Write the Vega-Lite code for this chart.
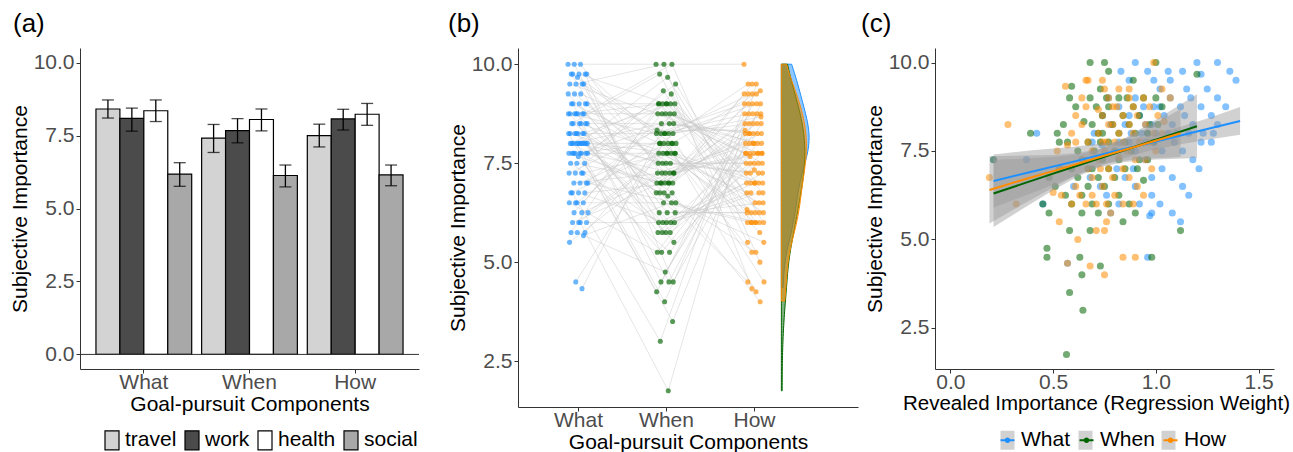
{
"$schema": "https://vega.github.io/schema/vega-lite/v6.json",
"background": "white",
"padding": {"left": 9, "top": 11, "right": 0, "bottom": 0},
"autosize": {"type": "pad"},
"config": {
 "font": "Liberation Sans",
 "view": {"stroke": null},
 "axis": {"labelFontSize": 21, "labelColor": "#4D4D4D", "titleFontSize": 21, "titleFontWeight": "normal", "titleColor": "#000000", "domainColor": "#333333", "tickColor": "#333333", "tickSize": 4, "grid": false, "labelPadding": 2, "labelFont": "Liberation Sans", "titleFont": "Liberation Sans"},
 "axisX": {"labelPadding": -2, "titlePadding": 1},
 "legend": {"labelFontSize": 21, "labelColor": "#000000", "labelFont": "Liberation Sans", "padding": 0},
 "title": {"fontSize": 26, "fontWeight": "normal", "anchor": "start", "frame": "group", "baseline": "alphabetic", "color": "#000000", "font": "Liberation Sans"}
},
"datasets": {
 "bars": [
  {"comp":"What","goal":"travel","m":8.41,"lo":8.10,"hi":8.72},
  {"comp":"What","goal":"work","m":8.09,"lo":7.65,"hi":8.44},
  {"comp":"What","goal":"health","m":8.35,"lo":7.98,"hi":8.72},
  {"comp":"What","goal":"social","m":6.18,"lo":5.76,"hi":6.57},
  {"comp":"When","goal":"travel","m":7.41,"lo":6.92,"hi":7.88},
  {"comp":"When","goal":"work","m":7.67,"lo":7.25,"hi":8.08},
  {"comp":"When","goal":"health","m":8.05,"lo":7.66,"hi":8.41},
  {"comp":"When","goal":"social","m":6.13,"lo":5.74,"hi":6.49},
  {"comp":"How","goal":"travel","m":7.50,"lo":7.11,"hi":7.89},
  {"comp":"How","goal":"work","m":8.07,"lo":7.69,"hi":8.40},
  {"comp":"How","goal":"health","m":8.23,"lo":7.85,"hi":8.60},
  {"comp":"How","goal":"social","m":6.15,"lo":5.78,"hi":6.49}
 ],
 "fit": [
  {"c":"What","grp":"What","x":0.21,"y":6.65,"lo":5.90,"hi":7.40},
  {"c":"What","grp":"What","x":0.4,"y":6.92,"lo":6.32,"hi":7.52},
  {"c":"What","grp":"What","x":0.6,"y":7.20,"lo":6.78,"hi":7.62},
  {"c":"What","grp":"What","x":0.8,"y":7.49,"lo":7.22,"hi":7.76},
  {"c":"What","grp":"What","x":0.95,"y":7.70,"lo":7.48,"hi":7.92},
  {"c":"What","grp":"What","x":1.1,"y":7.91,"lo":7.67,"hi":8.15},
  {"c":"What","grp":"What","x":1.25,"y":8.12,"lo":7.82,"hi":8.42},
  {"c":"What","grp":"What","x":1.41,"y":8.35,"lo":7.96,"hi":8.74},
  {"c":"When","grp":"When","x":0.21,"y":6.30,"lo":5.35,"hi":7.25},
  {"c":"When","grp":"When","x":0.35,"y":6.57,"lo":5.86,"hi":7.28},
  {"c":"When","grp":"When","x":0.5,"y":6.86,"lo":6.39,"hi":7.33},
  {"c":"When","grp":"When","x":0.62,"y":7.09,"lo":6.78,"hi":7.40},
  {"c":"When","grp":"When","x":0.72,"y":7.28,"lo":7.03,"hi":7.53},
  {"c":"When","grp":"When","x":0.85,"y":7.53,"lo":7.19,"hi":7.87},
  {"c":"When","grp":"When","x":1.0,"y":7.82,"lo":7.26,"hi":8.38},
  {"c":"When","grp":"When","x":1.2,"y":8.20,"lo":7.30,"hi":9.10},
  {"c":"How","grp":"How","x":0.19,"y":6.40,"lo":5.45,"hi":7.35},
  {"c":"How","grp":"How","x":0.35,"y":6.68,"lo":5.99,"hi":7.37},
  {"c":"How","grp":"How","x":0.5,"y":6.93,"lo":6.47,"hi":7.39},
  {"c":"How","grp":"How","x":0.62,"y":7.14,"lo":6.84,"hi":7.44},
  {"c":"How","grp":"How","x":0.74,"y":7.35,"lo":7.13,"hi":7.57},
  {"c":"How","grp":"How","x":0.9,"y":7.62,"lo":7.27,"hi":7.97},
  {"c":"How","grp":"How","x":1.12,"y":8.00,"lo":7.33,"hi":8.68}
 ],
 "pts": [
  {"id":0,"c":"What","s":10,"w":0.90},{"id":29,"c":"What","s":10,"w":1.20},{"id":58,"c":"What","s":10,"w":1.30},
  {"id":87,"c":"What","s":9.75,"w":1.06},{"id":22,"c":"What","s":9.75,"w":0.96},{"id":51,"c":"What","s":9.75,"w":1.36},{"id":80,"c":"What","s":9.75,"w":1.13},{"id":15,"c":"What","s":9.75,"w":0.83},
  {"id":44,"c":"What","s":9.67,"w":1.22},
  {"id":73,"c":"What","s":9.5,"w":0.99},{"id":8,"c":"What","s":9.5,"w":1.39},{"id":37,"c":"What","s":9.5,"w":1.07},{"id":66,"c":"What","s":9.5,"w":0.87},
  {"id":1,"c":"What","s":9.25,"w":1.15},{"id":30,"c":"What","s":9.25,"w":1.25},{"id":59,"c":"What","s":9.25,"w":1.02},
  {"id":88,"c":"What","s":9.0,"w":0.90},{"id":23,"c":"What","s":9.0,"w":1.30},{"id":52,"c":"What","s":9.0,"w":1.07},{"id":81,"c":"What","s":9.0,"w":0.77},{"id":16,"c":"What","s":9.0,"w":1.17},
  {"id":45,"c":"What","s":8.75,"w":0.94},{"id":74,"c":"What","s":8.75,"w":1.34},{"id":9,"c":"What","s":8.75,"w":1.02},{"id":38,"c":"What","s":8.75,"w":0.82},{"id":67,"c":"What","s":8.75,"w":1.12},{"id":2,"c":"What","s":8.75,"w":1.22},{"id":31,"c":"What","s":8.75,"w":0.99},
  {"id":60,"c":"What","s":8.5,"w":0.87},{"id":89,"c":"What","s":8.5,"w":1.27},{"id":24,"c":"What","s":8.5,"w":1.04},{"id":53,"c":"What","s":8.5,"w":0.74},{"id":82,"c":"What","s":8.5,"w":1.14},{"id":17,"c":"What","s":8.5,"w":0.92},
  {"id":46,"c":"What","s":8.25,"w":1.30},{"id":75,"c":"What","s":8.25,"w":0.98},{"id":10,"c":"What","s":8.25,"w":0.78},{"id":39,"c":"What","s":8.25,"w":1.08},{"id":68,"c":"What","s":8.25,"w":1.18},{"id":3,"c":"What","s":8.25,"w":0.95},{"id":32,"c":"What","s":8.25,"w":0.85},
  {"id":61,"c":"What","s":8.0,"w":1.23},{"id":90,"c":"What","s":8.0,"w":1.00},{"id":25,"c":"What","s":8.0,"w":0.70},{"id":54,"c":"What","s":8.0,"w":1.10},{"id":83,"c":"What","s":8.0,"w":0.88},{"id":18,"c":"What","s":8.0,"w":1.28},{"id":47,"c":"What","s":8.0,"w":0.96},{"id":76,"c":"What","s":8.0,"w":0.42},{"id":11,"c":"What","s":8.0,"w":1.06},{"id":40,"c":"What","s":8.0,"w":1.16},{"id":69,"c":"What","s":8.0,"w":0.93},
  {"id":4,"c":"What","s":7.75,"w":0.82},{"id":33,"c":"What","s":7.75,"w":1.22},{"id":62,"c":"What","s":7.75,"w":0.99},{"id":91,"c":"What","s":7.75,"w":0.69},{"id":26,"c":"What","s":7.75,"w":1.09},{"id":55,"c":"What","s":7.75,"w":0.87},{"id":84,"c":"What","s":7.75,"w":1.27},{"id":19,"c":"What","s":7.75,"w":0.95},
  {"id":48,"c":"What","s":7.67,"w":0.74},
  {"id":77,"c":"What","s":7.5,"w":1.03},{"id":12,"c":"What","s":7.5,"w":1.13},{"id":41,"c":"What","s":7.5,"w":0.90},
  {"id":70,"c":"What","s":7.25,"w":0.21},{"id":5,"c":"What","s":7.25,"w":1.18},{"id":34,"c":"What","s":7.25,"w":0.95},{"id":63,"c":"What","s":7.25,"w":0.37},
  {"id":92,"c":"What","s":7.0,"w":1.03},{"id":27,"c":"What","s":7.0,"w":0.81},{"id":56,"c":"What","s":7.0,"w":1.21},{"id":85,"c":"What","s":7.0,"w":0.89},
  {"id":20,"c":"What","s":6.75,"w":0.68},{"id":49,"c":"What","s":6.75,"w":0.98},{"id":78,"c":"What","s":6.75,"w":1.08},{"id":13,"c":"What","s":6.75,"w":0.85},
  {"id":42,"c":"What","s":6.5,"w":0.73},{"id":71,"c":"What","s":6.5,"w":1.13},{"id":6,"c":"What","s":6.5,"w":0.90},{"id":35,"c":"What","s":6.5,"w":0.60},
  {"id":64,"c":"What","s":6.25,"w":0.98},{"id":93,"c":"What","s":6.25,"w":0.76},{"id":28,"c":"What","s":6.25,"w":1.16},
  {"id":57,"c":"What","s":6.0,"w":0.82},{"id":86,"c":"What","s":6.0,"w":0.45},{"id":21,"c":"What","s":6.0,"w":0.92},{"id":50,"c":"What","s":6.0,"w":1.02},
  {"id":79,"c":"What","s":5.75,"w":0.78},{"id":14,"c":"What","s":5.75,"w":1.08},{"id":43,"c":"What","s":5.75,"w":0.98},
  {"id":72,"c":"What","s":5.67,"w":0.97},{"id":7,"c":"What","s":5.5,"w":1.12},{"id":36,"c":"What","s":4.5,"w":0.96},{"id":65,"c":"What","s":4.33,"w":0.57},

  {"id":0,"c":"When","s":10,"w":1.00},{"id":37,"c":"When","s":10,"w":0.75},{"id":74,"c":"When","s":10,"w":0.68},
  {"id":17,"c":"When","s":9.75,"w":0.77},{"id":54,"c":"When","s":9.67,"w":1.20},{"id":91,"c":"When","s":9.5,"w":0.89},{"id":34,"c":"When","s":9.33,"w":0.59},{"id":71,"c":"When","s":9.25,"w":0.73},
  {"id":14,"c":"When","s":9.0,"w":0.86},{"id":51,"c":"When","s":9.0,"w":0.94},{"id":88,"c":"When","s":9.0,"w":0.76},{"id":31,"c":"When","s":9.0,"w":0.68},{"id":68,"c":"When","s":9.0,"w":1.00},{"id":11,"c":"When","s":9.0,"w":0.82},{"id":48,"c":"When","s":9.0,"w":0.58},
  {"id":85,"c":"When","s":8.75,"w":0.89},{"id":28,"c":"When","s":8.75,"w":0.71},{"id":65,"c":"When","s":8.75,"w":1.03},{"id":8,"c":"When","s":8.75,"w":0.77},{"id":45,"c":"When","s":8.75,"w":0.61},
  {"id":82,"c":"When","s":8.5,"w":0.84},{"id":25,"c":"When","s":8.5,"w":0.92},{"id":62,"c":"When","s":8.5,"w":0.74},{"id":5,"c":"When","s":8.33,"w":0.65},
  {"id":42,"c":"When","s":8.25,"w":0.97},{"id":79,"c":"When","s":8.25,"w":0.79},{"id":22,"c":"When","s":8.25,"w":0.55},{"id":59,"c":"When","s":8.25,"w":0.87},{"id":2,"c":"When","s":8.25,"w":0.69},{"id":39,"c":"When","s":8.25,"w":1.01},
  {"id":76,"c":"When","s":8.0,"w":0.74},{"id":19,"c":"When","s":8.0,"w":0.39},{"id":56,"c":"When","s":8.0,"w":0.82},{"id":93,"c":"When","s":8.0,"w":0.90},{"id":36,"c":"When","s":8.0,"w":0.72},{"id":73,"c":"When","s":8.0,"w":0.52},{"id":16,"c":"When","s":8.0,"w":0.96},
  {"id":53,"c":"When","s":7.75,"w":0.77},{"id":90,"c":"When","s":7.75,"w":0.53},{"id":33,"c":"When","s":7.75,"w":0.85},{"id":70,"c":"When","s":7.75,"w":0.67},{"id":13,"c":"When","s":7.75,"w":0.99},{"id":50,"c":"When","s":7.75,"w":0.73},{"id":87,"c":"When","s":7.75,"w":0.57},
  {"id":30,"c":"When","s":7.5,"w":0.80},{"id":67,"c":"When","s":7.5,"w":0.88},{"id":10,"c":"When","s":7.5,"w":0.70},{"id":47,"c":"When","s":7.5,"w":0.62},
  {"id":84,"c":"When","s":7.25,"w":0.92},{"id":27,"c":"When","s":7.25,"w":0.74},{"id":64,"c":"When","s":7.25,"w":0.21},{"id":7,"c":"When","s":7.25,"w":0.82},{"id":44,"c":"When","s":7.25,"w":0.64},{"id":81,"c":"When","s":7.25,"w":0.96},
  {"id":24,"c":"When","s":7.0,"w":0.69},{"id":61,"c":"When","s":7.0,"w":0.53},{"id":4,"c":"When","s":7.0,"w":0.77},{"id":41,"c":"When","s":7.0,"w":0.85},{"id":78,"c":"When","s":7.0,"w":0.67},{"id":21,"c":"When","s":7.0,"w":0.59},{"id":58,"c":"When","s":7.0,"w":0.91},
  {"id":1,"c":"When","s":6.75,"w":0.72},{"id":38,"c":"When","s":6.75,"w":0.48},{"id":75,"c":"When","s":6.75,"w":0.80},{"id":18,"c":"When","s":6.75,"w":0.62},{"id":55,"c":"When","s":6.67,"w":0.94},
  {"id":92,"c":"When","s":6.5,"w":0.67},{"id":35,"c":"When","s":6.5,"w":0.51},{"id":72,"c":"When","s":6.5,"w":0.75},
  {"id":15,"c":"When","s":6.25,"w":0.82},{"id":52,"c":"When","s":6.25,"w":0.64},{"id":89,"c":"When","s":6.25,"w":0.56},
  {"id":32,"c":"When","s":6.0,"w":0.87},{"id":69,"c":"When","s":6.0,"w":0.69},{"id":12,"c":"When","s":6.0,"w":0.45},{"id":49,"c":"When","s":6.0,"w":0.77},{"id":86,"c":"When","s":6.0,"w":0.59},
  {"id":29,"c":"When","s":5.75,"w":0.90},{"id":66,"c":"When","s":5.75,"w":0.64},{"id":9,"c":"When","s":5.75,"w":0.48},{"id":46,"c":"When","s":5.75,"w":0.72},
  {"id":83,"c":"When","s":5.5,"w":0.84},{"id":26,"c":"When","s":5.25,"w":0.58},{"id":63,"c":"When","s":5.25,"w":0.68},{"id":6,"c":"When","s":5.25,"w":1.12},
  {"id":43,"c":"When","s":4.75,"w":0.47},{"id":80,"c":"When","s":4.5,"w":0.47},{"id":23,"c":"When","s":4.5,"w":0.63},{"id":60,"c":"When","s":4.5,"w":0.98},
  {"id":3,"c":"When","s":4.25,"w":0.73},{"id":40,"c":"When","s":4.0,"w":0.64},{"id":77,"c":"When","s":3.5,"w":0.58},{"id":20,"c":"When","s":3.0,"w":0.645},{"id":57,"c":"When","s":1.75,"w":0.565},

  {"id":0,"c":"How","s":10,"w":0.99},
  {"id":19,"c":"How","s":9.5,"w":0.66},{"id":38,"c":"How","s":9.5,"w":0.67},{"id":57,"c":"How","s":9.5,"w":0.74},{"id":76,"c":"How","s":9.33,"w":0.56},
  {"id":1,"c":"How","s":9.25,"w":1.03},{"id":20,"c":"How","s":9.25,"w":0.82},{"id":39,"c":"How","s":9.25,"w":0.75},{"id":58,"c":"How","s":9.25,"w":0.87},
  {"id":77,"c":"How","s":9.0,"w":0.87},{"id":2,"c":"How","s":9.0,"w":0.64},{"id":21,"c":"How","s":9.0,"w":0.94},{"id":40,"c":"How","s":9.0,"w":0.77},{"id":59,"c":"How","s":9.0,"w":1.07},
  {"id":78,"c":"How","s":8.75,"w":0.81},{"id":3,"c":"How","s":8.75,"w":0.66},{"id":22,"c":"How","s":8.75,"w":0.89},{"id":41,"c":"How","s":8.75,"w":0.97},{"id":60,"c":"How","s":8.75,"w":0.79},
  {"id":79,"c":"How","s":8.67,"w":0.72},
  {"id":4,"c":"How","s":8.5,"w":1.01},{"id":23,"c":"How","s":8.5,"w":0.84},{"id":42,"c":"How","s":8.5,"w":0.61},{"id":61,"c":"How","s":8.5,"w":0.91},{"id":80,"c":"How","s":8.5,"w":0.74},
  {"id":5,"c":"How","s":8.33,"w":1.04},
  {"id":24,"c":"How","s":8.25,"w":0.79},{"id":43,"c":"How","s":8.25,"w":0.64},{"id":62,"c":"How","s":8.25,"w":0.87},{"id":81,"c":"How","s":8.25,"w":0.95},{"id":6,"c":"How","s":8.25,"w":0.77},{"id":25,"c":"How","s":8.25,"w":0.28},
  {"id":44,"c":"How","s":8.0,"w":0.99},{"id":63,"c":"How","s":8.0,"w":0.82},{"id":82,"c":"How","s":8.0,"w":0.59},{"id":7,"c":"How","s":8.0,"w":0.89},{"id":26,"c":"How","s":8.0,"w":0.72},{"id":45,"c":"How","s":8.0,"w":1.03},
  {"id":64,"c":"How","s":7.75,"w":0.76},{"id":83,"c":"How","s":7.75,"w":0.61},{"id":8,"c":"How","s":7.75,"w":0.84},{"id":27,"c":"How","s":7.75,"w":0.92},{"id":46,"c":"How","s":7.75,"w":0.74},{"id":65,"c":"How","s":7.75,"w":0.67},{"id":84,"c":"How","s":7.75,"w":0.97},{"id":9,"c":"How","s":7.75,"w":0.80},
  {"id":28,"c":"How","s":7.67,"w":0.57},
  {"id":47,"c":"How","s":7.5,"w":0.86},{"id":66,"c":"How","s":7.5,"w":0.69},{"id":85,"c":"How","s":7.5,"w":1.00},{"id":10,"c":"How","s":7.5,"w":0.75},{"id":29,"c":"How","s":7.5,"w":0.52},
  {"id":48,"c":"How","s":7.33,"w":0.82},
  {"id":67,"c":"How","s":7.25,"w":0.90},{"id":86,"c":"How","s":7.25,"w":0.72},{"id":11,"c":"How","s":7.25,"w":0.65},{"id":30,"c":"How","s":7.25,"w":0.95},
  {"id":49,"c":"How","s":7.0,"w":0.77},{"id":68,"c":"How","s":7.0,"w":0.54},{"id":87,"c":"How","s":7.0,"w":0.84},{"id":12,"c":"How","s":7.0,"w":0.67},{"id":31,"c":"How","s":7.0,"w":0.98},{"id":50,"c":"How","s":7.0,"w":0.73},
  {"id":69,"c":"How","s":6.75,"w":0.19},{"id":88,"c":"How","s":6.75,"w":0.79},{"id":13,"c":"How","s":6.75,"w":0.87},{"id":32,"c":"How","s":6.75,"w":0.69},
  {"id":51,"c":"How","s":6.5,"w":0.61},{"id":70,"c":"How","s":6.5,"w":0.91},{"id":89,"c":"How","s":6.5,"w":0.74},
  {"id":14,"c":"How","s":6.33,"w":0.50},
  {"id":33,"c":"How","s":6.25,"w":0.80},{"id":52,"c":"How","s":6.25,"w":0.63},{"id":71,"c":"How","s":6.25,"w":0.94},{"id":90,"c":"How","s":6.25,"w":0.69},{"id":15,"c":"How","s":6.25,"w":0.54},
  {"id":34,"c":"How","s":6.0,"w":0.76},{"id":53,"c":"How","s":6.0,"w":0.84},{"id":72,"c":"How","s":6.0,"w":0.66},{"id":91,"c":"How","s":6.0,"w":0.59},{"id":16,"c":"How","s":6.0,"w":0.89},{"id":35,"c":"How","s":6.0,"w":0.71},{"id":54,"c":"How","s":6.0,"w":0.32},
  {"id":73,"c":"How","s":5.75,"w":0.78},{"id":92,"c":"How","s":5.5,"w":0.53},{"id":17,"c":"How","s":5.5,"w":0.76},
  {"id":36,"c":"How","s":5.25,"w":0.71},{"id":55,"c":"How","s":5.25,"w":0.75},{"id":74,"c":"How","s":5.0,"w":0.62},
  {"id":93,"c":"How","s":4.5,"w":0.84},{"id":18,"c":"How","s":4.5,"w":0.90},{"id":37,"c":"How","s":4.33,"w":0.57},{"id":56,"c":"How","s":4.25,"w":0.68},{"id":75,"c":"How","s":4.0,"w":0.75}
 ]
},
"bounds": "flush",
"spacing": 99,
"resolve": {"scale": {"x": "independent", "y": "independent", "color": "independent", "fill": "independent", "stroke": "independent", "xOffset": "independent"}, "legend": {"color": "independent", "fill": "independent", "stroke": "independent"}},
"hconcat": [
 {
  "width": 339, "height": 321,
  "title": {"text": "(a)", "dx": -67, "offset": 11},
  "data": {"name": "bars"},
  "layer": [
   {"mark": {"type": "bar", "stroke": "#000000", "strokeWidth": 1.2},
    "encoding": {
     "x": {"field": "comp", "type": "nominal", "sort": ["What","When","How"], "scale": {"paddingInner": 0.094, "paddingOuter": 0.151}, "axis": {"title": "Goal-pursuit Components", "labelAngle": 0}},
     "xOffset": {"field": "goal", "type": "nominal", "sort": ["travel","work","health","social"], "scale": {"paddingInner": 0, "paddingOuter": 0}},
     "y": {"field": "m", "type": "quantitative", "stack": null, "scale": {"domain": [-0.5, 10.5], "nice": false, "zero": false}, "axis": {"title": "Subjective Importance", "values": [0, 2.5, 5, 7.5, 10], "format": ".1f", "titlePadding": 3}},
     "y2": {"datum": 0},
     "fill": {"field": "goal", "type": "nominal", "sort": ["travel","work","health","social"], "scale": {"domain": ["travel","work","health","social"], "range": ["#D3D3D3","#4B4B4B","#FFFFFF","#A8A8A8"]},
      "legend": {"orient": "none", "legendX": 21.5, "legendY": 381.5, "direction": "horizontal", "title": null, "symbolType": "M-0.737,-1H0.737V1H-0.737Z", "symbolSize": 361, "symbolStrokeColor": "#000000", "symbolStrokeWidth": 1.2, "symbolOpacity": 1, "labelOffset": 2.5, "columnPadding": 5}}
    }},
   {"mark": {"type": "rule", "color": "#000000", "strokeWidth": 1.3},
    "encoding": {
     "x": {"field": "comp", "type": "nominal", "sort": ["What","When","How"]},
     "xOffset": {"field": "goal", "type": "nominal", "sort": ["travel","work","health","social"]},
     "y": {"field": "lo", "type": "quantitative"},
     "y2": {"field": "hi"}
    }},
   {"mark": {"type": "tick", "color": "#000000", "size": 12, "thickness": 1.3},
    "encoding": {
     "x": {"field": "comp", "type": "nominal", "sort": ["What","When","How"]},
     "xOffset": {"field": "goal", "type": "nominal", "sort": ["travel","work","health","social"]},
     "y": {"field": "lo", "type": "quantitative"}
    }},
   {"mark": {"type": "tick", "color": "#000000", "size": 12, "thickness": 1.3},
    "encoding": {
     "x": {"field": "comp", "type": "nominal", "sort": ["What","When","How"]},
     "xOffset": {"field": "goal", "type": "nominal", "sort": ["travel","work","health","social"]},
     "y": {"field": "hi", "type": "quantitative"}
    }},
   {"data": {"values": [{}]}, "mark": {"type": "rule", "color": "#333333", "strokeWidth": 1},
    "encoding": {"y": {"datum": 0}}}
  ]
 },
 {
  "bounds": "flush",
  "spacing": 77,
  "resolve": {"scale": {"x": "independent", "y": "independent", "color": "independent", "fill": "independent", "stroke": "independent", "xOffset": "independent"}, "legend": {"color": "independent", "fill": "independent", "stroke": "independent"}},
  "hconcat": [
   {
    "width": 340, "height": 359,
    "title": {"text": "(b)", "dx": -70, "offset": 11},
    "data": {"name": "pts"},
    "resolve": {"scale": {"x": "independent"}, "axis": {"x": "independent"}},
    "layer": [
     {
      "layer": [
       {"mark": {"type": "line", "color": "#C8C8C8", "strokeWidth": 0.8, "opacity": 0.6},
        "encoding": {
         "x": {"field": "c", "type": "nominal", "sort": ["What","When","How"], "scale": {"type": "point", "padding": 0.932, "align": 0.366}, "axis": {"title": "Goal-pursuit Components", "labelAngle": 0, "titlePadding": 1}},
         "xOffset": {"field": "id", "type": "quantitative", "scale": {"domain": [0, 93], "range": [-10, 10]}},
         "y": {"field": "s", "type": "quantitative", "scale": {"domain": [1.34, 10.41], "nice": false, "zero": false}, "axis": {"title": "Subjective Importance", "values": [2.5, 5, 7.5, 10], "format": ".1f", "titlePadding": 3}},
         "detail": {"field": "id", "type": "nominal"},
         "order": {"value": null}
        }},
       {"mark": {"type": "circle", "size": 26, "opacity": 0.65},
        "encoding": {
         "x": {"field": "c", "type": "nominal", "sort": ["What","When","How"]},
         "xOffset": {"field": "id", "type": "quantitative", "scale": {"domain": [0, 93], "range": [-10, 10]}},
         "y": {"field": "s", "type": "quantitative"},
         "color": {"field": "c", "type": "nominal", "scale": {"domain": ["What","When","How"], "range": ["#1E90FF","#006400","#FF8C00"]}, "legend": null}
        }}
      ]
     },
     {
      "transform": [
       {"density": "s", "groupby": ["c"], "bandwidth": 0.6, "extent": [1.75, 10], "steps": 120},
       {"filter": "datum.c == 'When' || (datum.c == 'What' && datum.value >= 4.3) || (datum.c == 'How' && datum.value >= 3.98)"}
      ],
      "mark": {"type": "area", "orient": "horizontal", "fillOpacity": 0.5, "strokeWidth": 1},
      "encoding": {
       "y": {"field": "value", "type": "quantitative"},
       "x": {"field": "density", "type": "quantitative", "scale": {"domain": [-2.75, 0.8], "nice": false, "zero": false}, "axis": null},
       "x2": {"datum": 0},
       "fill": {"field": "c", "type": "nominal", "scale": {"domain": ["What","When","How"], "range": ["#1E90FF","#006400","#FF8C00"]}, "legend": null},
       "stroke": {"field": "c", "type": "nominal", "scale": {"domain": ["What","When","How"], "range": ["#1E90FF","#006400","#FF8C00"]}, "legend": null}
      }
     }
    ]
   },
   {
    "width": 339, "height": 321,
    "title": {"text": "(c)", "dx": -74, "offset": 11},
    "resolve": {"scale": {"color": "independent"}, "legend": {"color": "independent"}},
    "layer": [
     {"data": {"name": "pts"}, "mark": {"type": "circle", "size": 50, "opacity": 0.55},
      "encoding": {
       "x": {"field": "w", "type": "quantitative", "scale": {"domain": [-0.075, 1.575], "nice": false, "zero": false}, "axis": {"title": "Revealed Importance (Regression Weight)", "values": [0, 0.5, 1, 1.5], "format": ".1f", "titleX": 161, "titleFontSize": 20.5}},
       "y": {"field": "s", "type": "quantitative", "scale": {"domain": [1.34, 10.41], "nice": false, "zero": false}, "axis": {"title": "Subjective Importance", "values": [2.5, 5, 7.5, 10], "format": ".1f", "titlePadding": 3}},
       "color": {"field": "c", "type": "nominal", "scale": {"domain": ["What","When","How"], "range": ["#1E90FF","#006400","#FF8C00"]}, "legend": null}
      }},
     {"data": {"name": "fit"}, "mark": {"type": "area", "opacity": 0.45},
      "encoding": {
       "x": {"field": "x", "type": "quantitative"},
       "y": {"field": "lo", "type": "quantitative"},
       "y2": {"field": "hi"},
       "fill": {"field": "grp", "type": "nominal", "scale": {"domain": ["What","When","How"], "range": ["#999999","#999999","#999999"]},
        "legend": {"orient": "none", "legendX": 62, "legendY": 381.5, "direction": "horizontal", "title": null, "symbolType": "M-0.737,-1H0.737V1H-0.737Z", "symbolSize": 361, "labelOffset": 3, "columnPadding": 4, "labelOpacity": 0, "zindex": 0}}
      }},
     {"data": {"name": "fit"}, "mark": {"type": "line", "strokeWidth": 2},
      "encoding": {
       "x": {"field": "x", "type": "quantitative"},
       "y": {"field": "y", "type": "quantitative"},
       "color": {"field": "c", "type": "nominal", "scale": {"domain": ["What","When","How"], "range": ["#1E90FF","#006400","#FF8C00"]},
        "legend": {"orient": "none", "legendX": 62, "legendY": 381.5, "direction": "horizontal", "title": null, "symbolType": "M-0.737,0H0.737M-0.2,0A0.2,0.2 0 1,0 0.2,0A0.2,0.2 0 1,0 -0.2,0", "symbolSize": 361, "symbolStrokeWidth": 1.8, "labelOffset": 3, "columnPadding": 4, "zindex": 1}}
      }}
    ]
   }
  ]
 }
]
}
